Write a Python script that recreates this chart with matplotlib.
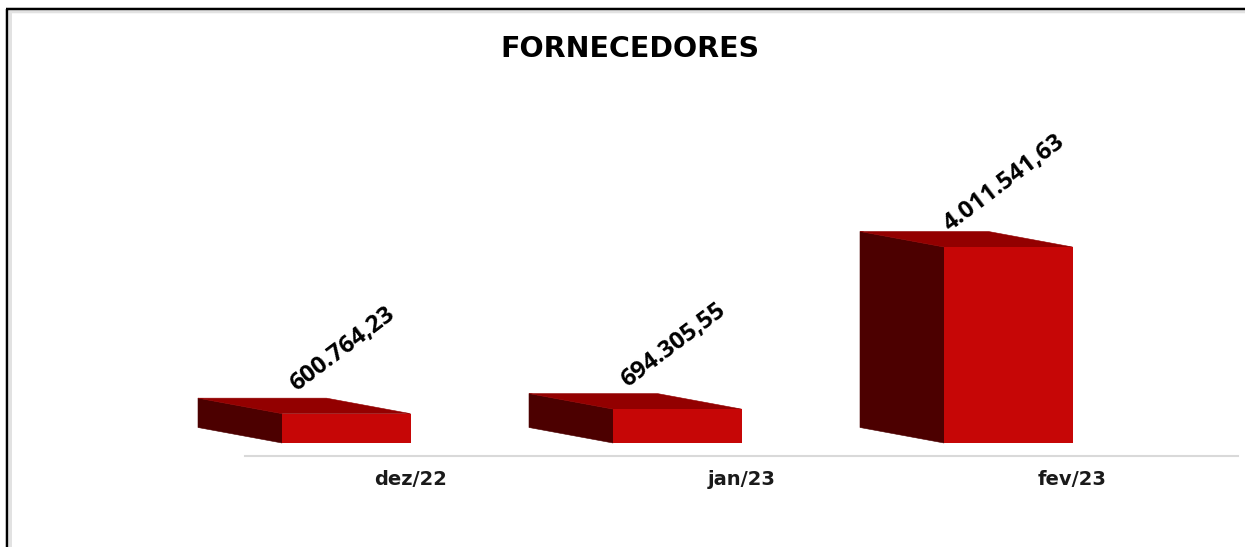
#!/usr/bin/env python3
import matplotlib
matplotlib.use('Agg')
import matplotlib.pyplot as plt
from matplotlib.patches import Polygon, Rectangle

categories = ['dez/22', 'jan/23', 'fev/23']
values = [600764.23, 694305.55, 4011541.63]
value_labels = ['600.764,23', '694.305,55', '4.011.541,63']

W, H = 1245, 547
FRONT = '#c60606'
TOP = '#930000'
SIDE = '#4c0000'

plt.rcParams['font.family'] = ['Open Sans', 'DejaVu Sans']

fig = plt.figure(figsize=(W / 100, H / 100), dpi=100, facecolor='white')

# moldura da imagem (aberta a direita e embaixo)
for coords, color, lw in [(([10, 10], [547, 12]), '#e2e2e2', 3),
                          (([9, 1245], [11.5, 11.5]), '#e2e2e2', 2.5),
                          (([7, 7], [547, 9]), 'black', 2.5),
                          (([6, 1245], [9, 9]), 'black', 2.5)]:
    fig.add_artist(plt.Line2D([c / W for c in coords[0]],
                              [1 - c / H for c in coords[1]],
                              color=color, lw=lw * 0.72, solid_capstyle='butt'))

# eixo: linha base em y=456 px, de x=245 a 1238 px
ax = fig.add_axes([245 / W, 1 - 456 / H, 993 / W, 300 / H])
ax.patch.set_alpha(0)
px_y = 196 / values[2]          # px por unidade
ax.set_xlim(-0.5, 2.5)
ax.set_ylim(-13 / px_y, (300 - 13) / px_y)

width = 128.5 / 331
dx = 84 / 331
dy = 15.5 / px_y

for i, v in enumerate(values):
    x0, x1 = i - width, i
    ax.add_patch(Polygon([(x0, 0), (x0 - dx, dy), (x0 - dx, v + dy), (x0, v)],
                         fc=SIDE, ec=SIDE, lw=0.4, zorder=2, clip_on=False))
    ax.add_patch(Polygon([(x0, v), (x0 - dx, v + dy), (x1 - dx, v + dy), (x1, v)],
                         fc=TOP, ec=TOP, lw=0.4, zorder=2, clip_on=False))
    ax.add_patch(Rectangle((x0, 0), width, v, fc=FRONT, ec='none', zorder=3))
    ax.annotate(value_labels[i], xy=(i, v), xytext=(-49, 46),
                textcoords='offset points', rotation=37, rotation_mode='anchor',
                ha='center', va='center', fontsize=17.5, color='black',
                fontweight='bold', annotation_clip=False)

ax.set_xticks(range(len(categories)))
ax.set_xticklabels(categories, fontsize=14, fontweight='bold', color='#1a1a1a',
                   family='DejaVu Sans')
ax.tick_params(axis='x', length=0, pad=10)
ax.set_yticks([])
for s in ['top', 'left', 'right']:
    ax.spines[s].set_visible(False)
ax.spines['bottom'].set_color('#d9d9d9')
ax.spines['bottom'].set_linewidth(1.5)

fig.text(630 / W, 1 - 49 / H, 'FORNECEDORES', ha='center', va='center',
         fontsize=20.5, fontweight='bold', color='black', family='DejaVu Sans')

fig.savefig('out.png', dpi=100)
